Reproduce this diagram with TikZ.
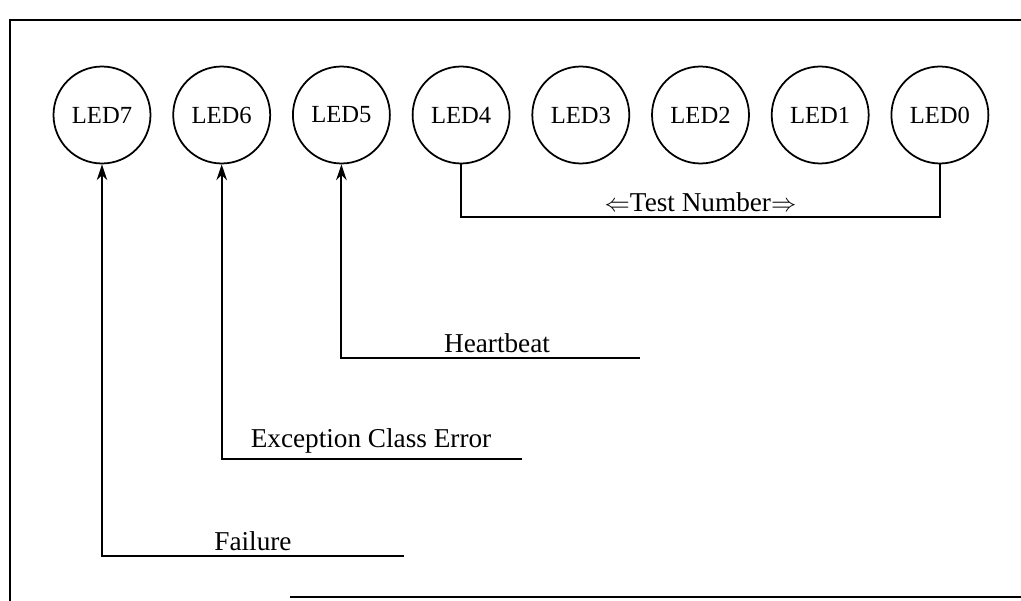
\documentclass[tikz,border=0pt]{standalone}
\usepackage{fontspec}
\setmainfont{Liberation Serif}
\usetikzlibrary{positioning, calc, arrows.meta}

\tikzset{
    led/.style={draw, circle, line width=1pt, minimum size=1.94cm, inner sep=0pt,
                font=\fontsize{14}{16}\selectfont},
    tag/.style={anchor=south, inner sep=3pt, font=\fontsize{15.5}{18}\selectfont},
    wire/.style={line width=1.1pt},
    pointer/.style={wire, -{Stealth[length=9pt, width=6pt]}}
}

\begin{document}
\begin{tikzpicture}[x=0.02cm, y=-0.02cm]
    \useasboundingbox (0,0) rectangle (1021,601);

    % Frame (right side runs off the page)
    \draw[line width=1.5pt] (10,601) -- (10,20) -- (1021,20);
    \draw[line width=1.5pt] (290,597) -- (1021,597);

    % LEDs
    \foreach \i in {7,...,0}
        \node[led] (led\i) at ({102+119.7*(7-\i)},115) {LED\i};

    % Test number bracket
    \coordinate (tnleft) at ($(led4.south)+(0,53)$);
    \draw[wire] (led4.south) -- (tnleft) -| (led0.south);
    \node[tag] (tn) at ($(tnleft)!0.5!(tnleft-|led0)$) {$\Leftarrow$Test Number$\Rightarrow$};

    % Heartbeat
    \coordinate (hbend) at (640,358);
    \node[tag] (hb) at (497,358) {Heartbeat};
    \draw[pointer] (hbend) -| (led5.south);

    % Exception Class Error
    \coordinate (excend) at (522,459);
    \node[tag] (exc) at (371,459) {Exception Class Error};
    \draw[pointer] (excend) -| (led6.south);

    % Failure
    \coordinate (failend) at (404,556);
    \node[tag] (fail) at (253,556) {Failure};
    \draw[pointer] (failend) -| (led7.south);

\end{tikzpicture}
\end{document}
